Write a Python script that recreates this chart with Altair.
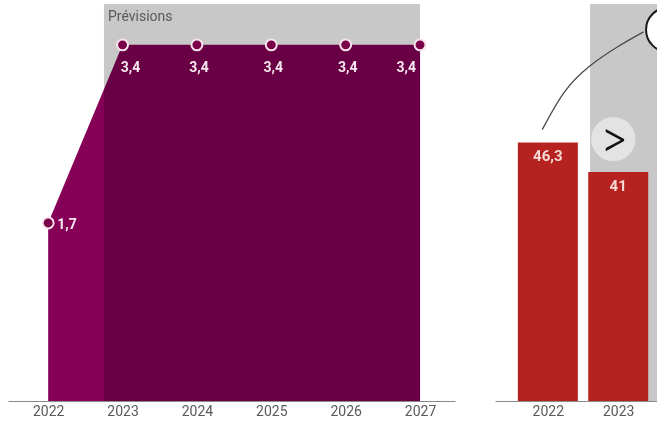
import altair as alt
import pandas as pd

# ---- Left panel data (growth, %) ----
years = [2022, 2023, 2024, 2025, 2026, 2027]
growth = [1.7, 3.4, 3.4, 3.4, 3.4, 3.4]
forecast_start = [2022.75]
forecast_end = [2027]
forecast_label = ["Prévisions"]

# ---- Right panel data (bars) ----
bar_years = [2022, 2023]
bar_values = [46.3, 41]
bar_forecast_start = [2022.6]

# annotation curve (right-panel data units)
curve_x = [2021.92, 2022.227, 2022.587, 2022.987, 2023.36]
curve_y = [48.6, 55.2, 59.9, 63.4, 66.1]
bubble_x = [2023.71]
bubble_y = [66.5]
button_x = [2022.93]
button_y = [46.9]

FONT = "Roboto"
label_expr = "replace(format(datum.value, '~g'), '.', ',')"

left_df = pd.DataFrame({"year": years, "value": growth})
band_df = pd.DataFrame({"start": forecast_start, "end": forecast_end, "label": forecast_label})

axis_l = alt.Axis(values=years, format="d", title=None)
xs_l = alt.Scale(domain=[2021.46, 2027.47], nice=False, zero=False)
ys_l = alt.Scale(domain=[0, 3.79], nice=False)

X_L = alt.X("year:Q", scale=xs_l, axis=axis_l)
Y_L = alt.Y("value:Q", scale=ys_l, axis=None)

area = alt.Chart(left_df).mark_area(color="#860058").encode(x=X_L, y=Y_L)
band = alt.Chart(band_df).mark_rect(color="#c8c8c8", blend="multiply").encode(
    x=alt.X("start:Q", scale=xs_l, axis=axis_l),
    x2="end:Q",
    y=alt.value(0),
    y2=alt.value("height"),
)
band_text = alt.Chart(band_df).mark_text(
    align="left", baseline="top", dx=4, dy=6, color="#5a5a5a", fontSize=14, font=FONT
).encode(
    x=alt.X("start:Q", scale=xs_l, axis=axis_l),
    y=alt.value(0),
    text="label:N",
)
points = alt.Chart(left_df).mark_point(
    filled=True, size=120, fill="#7a0049", stroke="#f7e3ec", strokeWidth=2, opacity=1
).encode(x=X_L, y=Y_L)

lab_style = dict(baseline="middle", color="#f7e8ef", fontSize=14, fontWeight="bold", font=FONT)


def value_labels(cond, **kw):
    return alt.Chart(left_df).transform_filter(cond).transform_calculate(
        lab=label_expr
    ).mark_text(**lab_style, **kw).encode(x=X_L, y=Y_L, text="lab:N")


labels_2023 = value_labels("datum.year == 2023", dy=23, dx=8)
labels_mid = value_labels("datum.year > 2023 && datum.year < 2027", dy=23, dx=2)
labels_last = value_labels("datum.year == 2027", dy=23, dx=-4, align="right")
labels_first = value_labels("datum.year == 2022", dy=2, dx=9, align="left")

left = alt.layer(
    area, band, band_text, points, labels_2023, labels_mid, labels_last, labels_first
).properties(width=447, height=397)

# ---- Right panel ----
bar_df = pd.DataFrame({"year": bar_years, "value": bar_values})
rband_df = pd.DataFrame({"start": bar_forecast_start})
curve_df = pd.DataFrame({"x": curve_x, "y": curve_y})
bubble_df = pd.DataFrame({"x": bubble_x, "y": bubble_y})
button_df = pd.DataFrame({"x": button_x, "y": button_y, "t": [">"]})

axis_r = alt.Axis(values=bar_years, format="d", title=None)
xs_r = alt.Scale(domain=[2021.32, 2023.48], nice=False, zero=False)
ys_r = alt.Scale(domain=[0, 71.1], nice=False)

X_R = lambda f: alt.X(f, scale=xs_r, axis=axis_r)
Y_R = lambda f: alt.Y(f, scale=ys_r, axis=None)

rband = alt.Chart(rband_df).mark_rect(color="#c8c8c8").encode(
    x=X_R("start:Q"),
    x2=alt.value("width"),
    y=alt.value(0),
    y2=alt.value("height"),
)
bars = alt.Chart(bar_df).mark_bar(size=60, color="#b5221f").encode(
    x=X_R("year:Q"), y=Y_R("value:Q")
)
bar_labels = alt.Chart(bar_df).transform_calculate(lab=label_expr).mark_text(
    baseline="middle", dy=14, color="#f6d8d4", fontSize=15, fontWeight="bold", font=FONT
).encode(x=X_R("year:Q"), y=Y_R("value:Q"), text="lab:N")
curve = alt.Chart(curve_df).mark_line(
    interpolate="natural", color="#4a4a4a", strokeWidth=1.3, clip=True
).encode(x=X_R("x:Q"), y=Y_R("y:Q"))
bubble = alt.Chart(bubble_df).mark_circle(
    size=1960, fill="white", stroke="#1a1a1a", strokeWidth=2, opacity=1, clip=True
).encode(x=X_R("x:Q"), y=Y_R("y:Q"))
button = alt.Chart(button_df).mark_circle(size=1960, color="#e3e3e3", opacity=1).encode(
    x=X_R("x:Q"), y=Y_R("y:Q")
)
button_icon = alt.Chart(button_df).mark_text(
    fontSize=42, fontWeight=300, color="#111111", font="Inter", baseline="middle", dx=1
).encode(x=X_R("x:Q"), y=Y_R("y:Q"), text="t:N")

right = alt.layer(rband, bars, bar_labels, curve, bubble, button, button_icon).properties(
    width=162, height=397
)

chart = (
    alt.hconcat(left, right, spacing=40)
    .resolve_scale(x="independent", y="independent")
    .properties(padding={"left": 8, "top": 4, "right": 0, "bottom": 0}, background="white")
    .configure_view(stroke=None)
    .configure_axis(
        domainColor="#8a8a8a",
        domainWidth=1,
        labelColor="#5a5a5a",
        labelFont=FONT,
        labelFontSize=14,
        ticks=False,
        grid=False,
        labelPadding=3,
    )
)

chart.save("out.html", embed_options={"renderer": "svg", "actions": False})
